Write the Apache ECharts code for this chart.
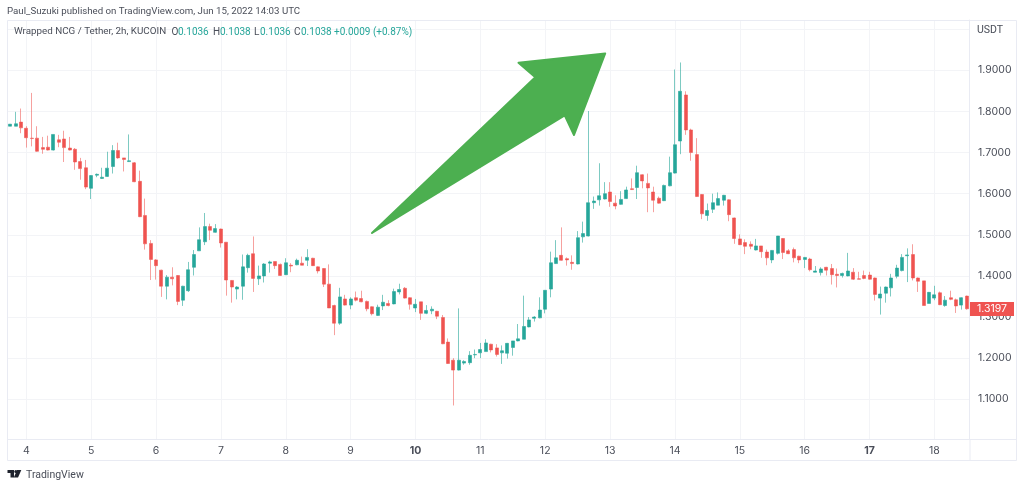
<!DOCTYPE html>
<html><head><meta charset="utf-8">
<style>html,body{margin:0;padding:0;background:#fff}#c{width:1024px;height:487px}</style>
<script src="https://cdn.jsdelivr.net/npm/echarts@6/dist/echarts.min.js"></script>
</head><body><div id="c"></div>
<script>
const firstDayIndex = 3;
const barsPerDay = 12;
const dayLabels = ['4','5','6','7','8','9','10','11','12','13','14','15','16','17','18'];
const boldDays = ['10','17'];
const yTickValues = [1.1,1.2,1.3,1.4,1.5,1.6,1.7,1.8,1.9];
const yGridValues = [1.1,1.2,1.3,1.4,1.5,1.6,1.7,1.8,1.9,2.0];
const lastPrice = 1.3197;

const opens = [
1.764,1.764,1.774,1.759,1.735,1.735,1.712,1.713,1.706,1.731,
1.733,1.711,1.708,1.678,1.663,1.613,1.645,1.637,1.642,1.666,
1.705,1.687,1.678,1.675,1.630,1.547,1.479,1.439,1.414,1.375,
1.397,1.401,1.341,1.364,1.421,1.461,1.483,1.520,1.506,1.514,
1.482,1.389,1.368,1.375,1.420,1.454,1.393,1.400,1.431,1.435,
1.428,1.403,1.426,1.427,1.431,1.438,1.443,1.422,1.418,1.380,
1.328,1.285,1.344,1.329,1.347,1.345,1.338,1.325,1.304,1.327,
1.333,1.332,1.361,1.370,1.347,1.322,1.337,1.309,1.315,1.314,
1.299,1.239,1.195,1.171,1.188,1.189,1.208,1.213,1.216,1.234,
1.225,1.213,1.212,1.226,1.242,1.246,1.276,1.297,1.298,1.319,
1.368,1.430,1.450,1.442,1.433,1.429,1.495,1.497,1.578,1.585,
1.587,1.604,1.577,1.574,1.588,1.612,1.615,1.646,1.625,1.604,
1.589,1.583,1.619,1.650,1.728,1.840,1.755,1.695,1.598,1.547,
1.562,1.572,1.584,1.585,1.541,1.490,1.481,1.477,1.463,1.473,
1.458,1.439,1.455,1.491,1.461,1.464,1.448,1.440,1.441,1.409,
1.408,1.421,1.418,1.404,1.401,1.400,1.409,1.393,1.401,1.402,
1.395,1.346,1.358,1.371,1.399,1.413,1.449,1.452,1.395,1.388,
1.333,1.346,1.359,1.328,1.347,1.342,1.329,1.351];
const closes = [
1.769,1.770,1.760,1.736,1.734,1.703,1.708,1.706,1.744,1.725,
1.712,1.706,1.677,1.661,1.616,1.644,1.647,1.640,1.662,1.705,
1.687,1.683,1.680,1.629,1.544,1.478,1.440,1.425,1.375,1.397,
1.393,1.338,1.375,1.415,1.452,1.488,1.520,1.511,1.515,1.480,
1.390,1.373,1.373,1.422,1.450,1.394,1.400,1.429,1.434,1.425,
1.401,1.432,1.424,1.438,1.426,1.445,1.425,1.412,1.380,1.322,
1.285,1.349,1.329,1.344,1.341,1.337,1.320,1.308,1.324,1.336,
1.328,1.362,1.367,1.346,1.331,1.331,1.309,1.316,1.319,1.302,
1.235,1.187,1.171,1.195,1.192,1.207,1.209,1.221,1.237,1.220,
1.209,1.218,1.236,1.242,1.247,1.277,1.293,1.300,1.317,1.365,
1.432,1.444,1.438,1.439,1.430,1.493,1.503,1.578,1.582,1.595,
1.600,1.581,1.570,1.586,1.609,1.610,1.651,1.631,1.614,1.584,
1.577,1.620,1.651,1.719,1.849,1.755,1.700,1.593,1.551,1.559,
1.578,1.588,1.596,1.549,1.491,1.476,1.472,1.472,1.473,1.459,
1.444,1.462,1.497,1.457,1.454,1.444,1.439,1.445,1.415,1.412,
1.417,1.414,1.403,1.401,1.406,1.412,1.392,1.392,1.394,1.392,
1.355,1.356,1.373,1.395,1.419,1.445,1.451,1.395,1.387,1.328,
1.360,1.354,1.330,1.341,1.343,1.327,1.347,1.320];
const highs = [
1.769,1.799,1.807,1.764,1.845,1.764,1.738,1.741,1.744,1.743,
1.753,1.738,1.711,1.687,1.682,1.645,1.649,1.663,1.702,1.718,
1.724,1.687,1.744,1.677,1.656,1.588,1.487,1.441,1.415,1.402,
1.421,1.402,1.376,1.434,1.463,1.518,1.553,1.527,1.526,1.515,
1.482,1.390,1.375,1.452,1.454,1.496,1.425,1.431,1.437,1.435,
1.430,1.443,1.431,1.442,1.447,1.465,1.444,1.423,1.419,1.428,
1.330,1.371,1.354,1.348,1.362,1.364,1.340,1.326,1.330,1.354,
1.341,1.369,1.381,1.373,1.348,1.344,1.337,1.329,1.326,1.315,
1.305,1.248,1.200,1.321,1.195,1.217,1.221,1.237,1.246,1.235,
1.234,1.231,1.237,1.242,1.283,1.352,1.300,1.302,1.348,1.365,
1.459,1.487,1.518,1.445,1.450,1.509,1.532,1.801,1.593,1.674,
1.628,1.628,1.596,1.606,1.617,1.637,1.668,1.647,1.649,1.617,
1.593,1.622,1.690,1.902,1.919,1.849,1.758,1.735,1.599,1.576,
1.600,1.603,1.597,1.586,1.542,1.501,1.489,1.484,1.490,1.473,
1.464,1.463,1.497,1.492,1.465,1.469,1.449,1.446,1.444,1.424,
1.421,1.422,1.429,1.418,1.408,1.456,1.419,1.410,1.413,1.410,
1.396,1.374,1.374,1.405,1.427,1.453,1.467,1.477,1.396,1.388,
1.361,1.376,1.362,1.351,1.364,1.345,1.348,1.352];
const lows = [
1.764,1.764,1.747,1.712,1.715,1.702,1.697,1.705,1.705,1.713,
1.677,1.705,1.658,1.634,1.611,1.587,1.640,1.636,1.641,1.649,
1.685,1.654,1.677,1.628,1.543,1.464,1.390,1.391,1.349,1.343,
1.377,1.329,1.327,1.361,1.401,1.461,1.475,1.487,1.505,1.469,
1.352,1.335,1.343,1.342,1.408,1.361,1.378,1.384,1.408,1.417,
1.400,1.402,1.409,1.426,1.426,1.424,1.424,1.406,1.373,1.322,
1.256,1.281,1.328,1.319,1.338,1.336,1.314,1.304,1.303,1.317,
1.326,1.331,1.355,1.345,1.318,1.312,1.293,1.307,1.307,1.295,
1.234,1.186,1.085,1.170,1.184,1.184,1.200,1.200,1.216,1.214,
1.204,1.186,1.199,1.206,1.241,1.246,1.275,1.289,1.297,1.309,
1.348,1.429,1.437,1.425,1.415,1.428,1.481,1.496,1.563,1.571,
1.586,1.568,1.562,1.573,1.587,1.609,1.587,1.613,1.555,1.555,
1.576,1.582,1.618,1.649,1.696,1.743,1.680,1.592,1.538,1.534,
1.553,1.572,1.571,1.533,1.478,1.475,1.453,1.465,1.462,1.444,
1.426,1.431,1.452,1.441,1.453,1.433,1.431,1.419,1.411,1.409,
1.401,1.401,1.379,1.372,1.396,1.399,1.390,1.392,1.392,1.391,
1.340,1.306,1.335,1.350,1.394,1.411,1.385,1.389,1.361,1.328,
1.333,1.341,1.329,1.325,1.341,1.310,1.318,1.318];

const categories = opens.map((_, i) => {
  const k = i - firstDayIndex;
  return k >= 0 && k % barsPerDay === 0 ? dayLabels[k / barsPerDay] : 'bar' + i;
});
const candles = opens.map((o, i) => [o, closes[i], lows[i], highs[i]]);

const textColor = '#4a4e59', teal = '#26a69a', red = '#ef5350', frame = '#e9ebf3', grid = '#f3f4f7';
const font = 'Inter';
const txt = (x, y, text, fill, size) => ({
  type: 'text', x, y, silent: true, z: 20,
  style: { text, fill, fontFamily: 'Roboto', fontSize: size || 10, verticalAlign: 'middle' }
});

const chart = echarts.init(document.getElementById('c'), null, { renderer: 'canvas' });
chart.setOption({
  animation: false,
  backgroundColor: '#fff',
  grid: { left: 7.4, top: 20, width: 962.1, height: 419.3 },
  xAxis: {
    type: 'category', data: categories, boundaryGap: true,
    axisLine: { show: true, lineStyle: { color: frame, width: 1 } },
    axisTick: { show: false, alignWithLabel: true, interval: (i, v) => dayLabels.includes(v) },
    splitLine: { show: true, alignWithLabel: true, interval: (i, v) => dayLabels.includes(v), lineStyle: { color: grid, width: 1 } },
    axisLabel: {
      show: true, interval: (i, v) => dayLabels.includes(v), margin: 6,
      hideOverlap: false,
      formatter: v => boldDays.includes(v) ? '{b|' + v + '}' : v,
      color: textColor, fontFamily: font, fontSize: 10.5,
      rich: { b: { fontWeight: 'bold', color: textColor, fontFamily: font, fontSize: 10.5 } }
    }
  },
  yAxis: {
    type: 'value', position: 'right', scale: true, min: 1.0027, max: 2.0223,
    axisLine: { show: true, onZero: false, lineStyle: { color: frame, width: 1 } },
    axisTick: { show: false, customValues: yGridValues },
    splitLine: { show: true, lineStyle: { color: grid, width: 1 } },
    axisLabel: {
      customValues: yTickValues, formatter: v => v.toFixed(4), margin: 8.5,
      padding: [4, 0, 0, 0],
      color: textColor, fontFamily: font, fontSize: 10.5
    }
  },
  series: [{
    type: 'candlestick', data: candles, barWidth: 3.5,
    itemStyle: {
      color: teal, color0: red, borderWidth: 1,
      borderColor: 'rgba(38,166,154,0.6)', borderColor0: 'rgba(239,83,80,0.55)'
    },
    markPoint: {
      silent: true, animation: false,
      data: [{
        coord: [categories[categories.length - 1], lastPrice],
        symbol: 'rect', symbolSize: [44, 14], symbolOffset: [25.2, 0],
        itemStyle: { color: red },
        label: { show: true, position: 'inside', formatter: lastPrice.toFixed(4), color: '#fff', fontFamily: font, fontSize: 10.5 }
      }]
    }
  }],
  graphic: [
    { type: 'rect', silent: true, z: 1, shape: { x: 7.5, y: 20.5, width: 1009, height: 440 }, style: { fill: 'none', stroke: frame, lineWidth: 1 } },
    { type: 'line', silent: true, z: 1, shape: { x1: 970, y1: 439.5, x2: 1016.5, y2: 439.5 }, style: { stroke: frame, lineWidth: 1 } },
    { type: 'line', silent: true, z: 1, shape: { x1: 970, y1: 439.5, x2: 970, y2: 460.5 }, style: { stroke: frame, lineWidth: 1 } },
    { type: 'polygon', silent: true, z: 15,
      shape: { points: [[605.2,53.5],[518.5,62.8],[535.3,77.3],[372,233],[564.7,115.3],[574,135],[605.2,53.5]] },
      style: { fill: '#4caf50', stroke: '#4caf50', lineWidth: 2, lineJoin: 'round' } },
    txt(7, 11.5, 'Paul_Suzuki published on TradingView.com, Jun 15, 2022 14:03 UTC', textColor, 9.7),
    txt(14, 32, 'Wrapped NCG / Tether, 2h, KUCOIN', textColor, 9.8),
    txt(171.5, 32, 'O', textColor), txt(178, 32, '0.1036', teal),
    txt(213, 32, 'H', textColor), txt(220, 32, '0.1038', teal),
    txt(254, 32, 'L', textColor), txt(260, 32, '0.1036', teal),
    txt(294, 32, 'C', textColor), txt(301, 32, '0.1038', teal),
    txt(334, 32, '+0.0009 (+0.87%)', teal),
    txt(977, 30.5, 'USDT', textColor, 10.5),
    txt(26, 475, 'TradingView', textColor, 10.5),
    { type: 'polygon', silent: true, z: 20, shape: { points: [[7.5,470],[14,470],[14,477.5],[10.5,477.5],[10.5,473],[7.5,473]] }, style: { fill: '#1e222d' } },
    { type: 'circle', silent: true, z: 20, shape: { cx: 15.8, cy: 471.5, r: 1.5 }, style: { fill: '#1e222d' } },
    { type: 'polygon', silent: true, z: 20, shape: { points: [[17,470],[21.3,470],[18,477.5],[13.8,477.5]] }, style: { fill: '#1e222d' } }
  ]
});
</script></body></html>
